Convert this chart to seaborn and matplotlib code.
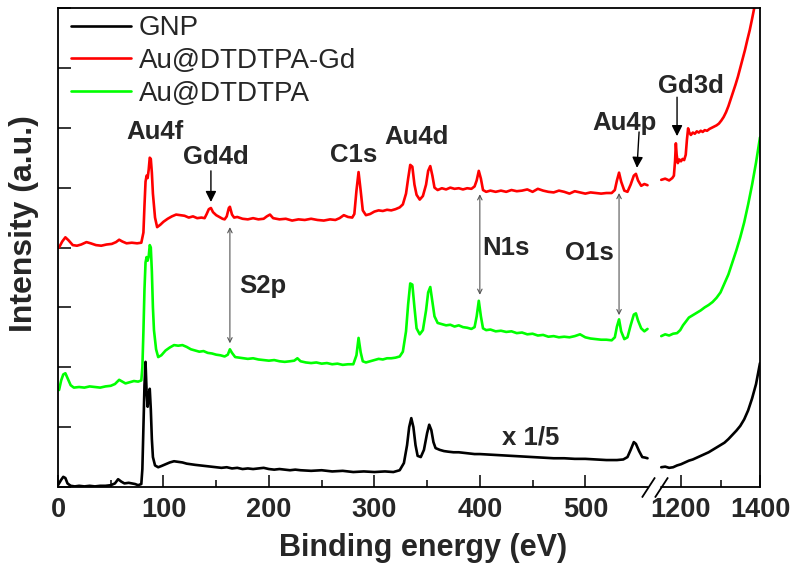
import numpy as np
import seaborn as sns
import matplotlib.pyplot as plt
from matplotlib.path import Path

# XPS survey spectra (intensity in arbitrary, offset units)
# left part 0-560 eV, right part 1150-1400 eV (broken axis)
red_left_ev = [1, 4, 7, 10, 14, 18, 22, 27, 31, 36, 41, 46, 51, 55, 58, 61, 65, 70, 75, 79,
               81, 82, 83, 84, 85, 86, 87, 88, 89, 90, 92, 94, 97, 100, 104, 108, 112, 116, 120,
               124, 128, 132, 136, 139, 141, 143, 145, 147, 150, 153, 156, 158, 160, 162, 163,
               165, 167, 170, 175, 180, 185, 190, 195, 198, 201, 204, 210, 216, 222, 228, 234,
               240, 246, 252, 258, 263, 267, 271, 275, 279, 281, 283, 285, 287, 289, 292, 296,
               300, 304, 308, 312, 316, 320, 324, 327, 330, 332, 334, 336, 338, 340, 343, 346,
               349, 351, 353, 355, 357, 360, 364, 368, 372, 376, 380, 384, 388, 392, 395, 397,
               399, 401, 403, 406, 410, 415, 420, 425, 430, 435, 440, 445, 450, 455, 460, 465,
               470, 475, 480, 485, 490, 495, 500, 505, 510, 515, 520, 525, 528, 530, 532, 534,
               537, 540, 543, 546, 548, 550, 553, 556, 559]
red_left_int = [4.00, 4.10, 4.17, 4.12, 4.04, 4.03, 4.05, 4.09, 4.07, 4.04, 4.03, 4.05, 4.06,
                4.09, 4.13, 4.10, 4.07, 4.08, 4.07, 4.08, 4.25, 4.70, 5.10, 5.20, 5.16, 5.30,
                5.50, 5.48, 5.25, 4.90, 4.50, 4.34, 4.38, 4.43, 4.48, 4.52, 4.55, 4.54, 4.53,
                4.50, 4.52, 4.49, 4.50, 4.49, 4.56, 4.64, 4.66, 4.59, 4.54, 4.51, 4.48, 4.47,
                4.52, 4.66, 4.68, 4.55, 4.50, 4.51, 4.48, 4.47, 4.49, 4.47, 4.48, 4.52, 4.55,
                4.49, 4.47, 4.48, 4.45, 4.47, 4.46, 4.48, 4.46, 4.45, 4.47, 4.46, 4.49, 4.54,
                4.51, 4.50, 4.56, 4.95, 5.26, 4.95, 4.62, 4.54, 4.56, 4.60, 4.62, 4.61, 4.63,
                4.62, 4.64, 4.67, 4.72, 4.90, 5.15, 5.38, 5.35, 5.05, 4.88, 4.80, 4.86, 5.05,
                5.28, 5.36, 5.20, 5.00, 4.96, 4.99, 4.97, 5.00, 4.98, 4.99, 4.97, 4.99, 4.98,
                5.02, 5.12, 5.28, 5.15, 4.96, 4.93, 4.95, 4.93, 4.95, 4.93, 4.96, 4.94, 4.95,
                4.97, 4.93, 4.98, 4.95, 4.93, 4.92, 4.95, 4.93, 4.90, 4.94, 4.92, 4.90, 4.92,
                4.91, 4.90, 4.91, 4.91, 4.96, 5.12, 5.25, 5.10, 4.95, 4.93, 5.05, 5.20, 5.23,
                5.12, 5.03, 5.06, 5.04]
red_right_ev = [1150, 1160, 1170, 1178, 1182, 1185, 1187, 1189, 1192, 1196, 1200, 1204, 1208,
                1212, 1215, 1218, 1221, 1225, 1230, 1235, 1240, 1245, 1250, 1255, 1260, 1266,
                1272, 1278, 1284, 1290, 1296, 1302, 1308, 1314, 1320, 1326, 1332, 1338, 1344,
                1350, 1356, 1362, 1368, 1374, 1380, 1386, 1392, 1400]
red_right_int = [5.13, 5.15, 5.12, 5.16, 5.20, 5.45, 5.74, 5.55, 5.41, 5.47, 5.44, 5.48, 5.46,
                 5.55, 5.80, 5.99, 5.92, 5.88, 5.92, 5.90, 5.94, 5.92, 5.95, 5.93, 5.96, 5.95,
                 5.98, 6.00, 6.02, 6.04, 6.07, 6.12, 6.18, 6.26, 6.36, 6.48, 6.60, 6.72, 6.85,
                 7.00, 7.15, 7.30, 7.47, 7.63, 7.82, 8.02, 8.25, 8.50]

green_left_ev = [1, 3, 5, 7, 9, 12, 15, 20, 25, 30, 35, 40, 45, 50, 54, 58, 61, 64, 68, 72, 76,
                 79, 80, 81, 82, 83, 84, 85, 86, 87, 88, 89, 90, 91, 93, 95, 98, 102, 106, 110,
                 114, 118, 122, 126, 130, 134, 138, 142, 146, 150, 154, 158, 161, 163, 165, 168,
                 172, 176, 180, 185, 190, 195, 200, 205, 210, 215, 220, 224, 227, 230, 235, 240,
                 245, 250, 255, 260, 265, 270, 275, 280, 283, 285, 287, 289, 292, 296, 300, 304,
                 308, 312, 316, 320, 324, 327, 330, 332, 334, 336, 338, 340, 343, 346, 349, 351,
                 353, 355, 357, 360, 364, 368, 372, 376, 380, 384, 388, 392, 395, 397, 399, 401,
                 403, 406, 410, 415, 420, 425, 430, 435, 440, 445, 450, 455, 460, 465, 470, 475,
                 480, 485, 490, 495, 500, 505, 510, 515, 520, 525, 528, 530, 532, 534, 537, 540,
                 543, 546, 548, 550, 553, 556, 559]
green_left_int = [1.62, 1.78, 1.88, 1.90, 1.82, 1.70, 1.66, 1.67, 1.66, 1.68, 1.67, 1.66, 1.68,
                  1.69, 1.72, 1.79, 1.76, 1.73, 1.75, 1.77, 1.76, 1.78, 2.00, 2.60, 3.30, 3.75,
                  3.84, 3.78, 3.85, 4.04, 4.00, 3.60, 3.00, 2.62, 2.30, 2.17, 2.20, 2.28, 2.33,
                  2.37, 2.36, 2.37, 2.34, 2.30, 2.28, 2.26, 2.27, 2.24, 2.23, 2.21, 2.20, 2.18,
                  2.21, 2.30, 2.24, 2.17, 2.16, 2.15, 2.14, 2.15, 2.13, 2.12, 2.11, 2.12, 2.10,
                  2.09, 2.10, 2.11, 2.15, 2.10, 2.08, 2.07, 2.08, 2.06, 2.07, 2.05, 2.06, 2.04,
                  2.05, 2.05, 2.20, 2.49, 2.25, 2.10, 2.08, 2.10, 2.12, 2.14, 2.13, 2.15, 2.15,
                  2.16, 2.18, 2.26, 2.60, 3.05, 3.40, 3.38, 3.00, 2.65, 2.55, 2.62, 2.95, 3.25,
                  3.34, 3.10, 2.85, 2.74, 2.72, 2.70, 2.71, 2.68, 2.70, 2.67, 2.66, 2.64, 2.67,
                  2.85, 3.11, 2.85, 2.65, 2.62, 2.63, 2.60, 2.61, 2.59, 2.60, 2.57, 2.58, 2.55,
                  2.56, 2.53, 2.54, 2.51, 2.52, 2.50, 2.51, 2.50, 2.52, 2.55, 2.50, 2.48, 2.47,
                  2.46, 2.46, 2.45, 2.50, 2.68, 2.80, 2.60, 2.47, 2.50, 2.70, 2.88, 2.90, 2.78,
                  2.65, 2.60, 2.64]
green_right_ev = [1150, 1160, 1170, 1180, 1190, 1198, 1205, 1212, 1220, 1230, 1240, 1250, 1260,
                  1270, 1280, 1290, 1300, 1310, 1320, 1330, 1340, 1350, 1360, 1370, 1380, 1390,
                  1400]
green_right_int = [2.52, 2.55, 2.53, 2.56, 2.57, 2.62, 2.70, 2.76, 2.83, 2.87, 2.91, 2.95, 3.00,
                   3.04, 3.09, 3.16, 3.25, 3.40, 3.55, 3.75, 3.95, 4.17, 4.42, 4.72, 5.05, 5.42,
                   5.84]

gnp_left_ev = [0, 3, 5, 7, 9, 12, 16, 20, 25, 30, 35, 40, 45, 50, 54, 57, 60, 63, 67, 70, 73, 76,
               79, 80, 81, 82, 83, 84, 85, 86, 87, 88, 89, 90, 92, 95, 98, 102, 106, 110, 114,
               118, 122, 126, 130, 135, 140, 145, 150, 155, 160, 165, 170, 175, 180, 185, 190,
               195, 200, 205, 210, 215, 220, 225, 230, 240, 250, 260, 270, 280, 290, 300, 310,
               318, 324, 328, 331, 333, 335, 337, 339, 341, 344, 347, 350, 352, 354, 356, 358,
               362, 366, 370, 375, 380, 385, 390, 395, 400, 410, 420, 430, 440, 450, 460, 470,
               480, 490, 500, 510, 520, 530, 536, 540, 543, 546, 548, 551, 554, 557, 559]
gnp_left_int = [0.03, 0.12, 0.17, 0.15, 0.06, 0.02, 0.01, 0.02, 0.01, 0.02, 0.01, 0.02, 0.02,
                0.03, 0.06, 0.13, 0.09, 0.06, 0.07, 0.06, 0.05, 0.03, 0.05, 0.30, 1.00, 1.70,
                2.09, 1.60, 1.34, 1.55, 1.64, 1.30, 0.80, 0.50, 0.36, 0.33, 0.35, 0.38, 0.41,
                0.43, 0.42, 0.41, 0.39, 0.38, 0.37, 0.36, 0.35, 0.34, 0.33, 0.32, 0.33, 0.31,
                0.32, 0.30, 0.31, 0.30, 0.31, 0.32, 0.30, 0.29, 0.30, 0.29, 0.28, 0.29, 0.28,
                0.27, 0.28, 0.26, 0.27, 0.25, 0.26, 0.25, 0.26, 0.25, 0.28, 0.40, 0.70, 1.00,
                1.15, 1.00, 0.70, 0.52, 0.50, 0.62, 0.90, 1.04, 0.95, 0.75, 0.65, 0.62, 0.60,
                0.59, 0.58, 0.58, 0.57, 0.56, 0.55, 0.55, 0.54, 0.53, 0.52, 0.51, 0.50, 0.49,
                0.48, 0.48, 0.47, 0.47, 0.46, 0.45, 0.45, 0.46, 0.50, 0.62, 0.75, 0.72, 0.60,
                0.50, 0.49, 0.48]
gnp_right_ev = [1150, 1160, 1170, 1180, 1190, 1200, 1210, 1220, 1230, 1240, 1250, 1260, 1270,
                1280, 1290, 1300, 1310, 1320, 1330, 1340, 1350, 1360, 1370, 1380, 1390, 1400]
gnp_right_int = [0.33, 0.34, 0.32, 0.33, 0.36, 0.38, 0.41, 0.44, 0.46, 0.49, 0.52, 0.55, 0.58,
                 0.62, 0.66, 0.70, 0.74, 0.80, 0.87, 0.94, 1.02, 1.13, 1.28, 1.48, 1.72, 2.07]

# peak labels: (text, x, y)
peak_labels = [("Au4f", 92, 5.93), ("Gd4d", 150, 5.51), ("C1s", 280, 5.54),
               ("Au4d", 340, 5.84), ("Au4p", 537, 6.08), ("Gd3d", 1224, 6.69),
               ("S2p", 194, 3.36), ("N1s", 425, 3.99), ("O1s", 504, 3.90),
               ("x 1/5", 448, 0.83)]
# black arrows: (x_from, y_from, x_to, y_to)
black_arrows = [(145, 5.28, 145, 4.76), (551, 5.93, 549, 5.33), (1190, 6.51, 1190, 5.86)]
# grey double arrows linking the two spectra: (x, y_top, y_bottom)
link_arrows = [(163, 4.34, 2.40), (400, 4.89, 3.21), (532, 4.91, 2.87)]


# broken axis done as a piecewise linear x scale
def fwd(x):
    x = np.asarray(x, dtype=float)
    return np.where(x <= 560, x * 1.0546,
                    np.where(x >= 1150, 603.25 + (x - 1150) * 0.395,
                             590.6 + (x - 560) * 12.65 / 590))


def inv(p):
    p = np.asarray(p, dtype=float)
    return np.where(p <= 590.6, p / 1.0546,
                    np.where(p >= 603.25, 1150 + (p - 603.25) / 0.395,
                             560 + (p - 590.6) * 590 / 12.65))


sns.set_style("ticks")
plt.rcParams['font.family'] = ['Liberation Sans', 'DejaVu Sans']

fig, ax = plt.subplots(figsize=(8, 5.72), dpi=100)
fig.subplots_adjust(left=0.0725, right=0.95, bottom=0.1486, top=0.986)
ax.set_xscale('function', functions=(fwd, inv))

lw = 1.9
sns.lineplot(x=gnp_left_ev, y=gnp_left_int, color='black', lw=lw, label='GNP',
             sort=False, estimator=None, ax=ax, zorder=4)
sns.lineplot(x=red_left_ev, y=red_left_int, color='#ff0000', lw=lw, label='Au@DTDTPA-Gd',
             sort=False, estimator=None, ax=ax)
sns.lineplot(x=green_left_ev, y=green_left_int, color='#00ff00', lw=lw, label='Au@DTDTPA',
             sort=False, estimator=None, ax=ax)
sns.lineplot(x=gnp_right_ev, y=gnp_right_int, color='black', lw=lw,
             sort=False, estimator=None, ax=ax, zorder=4)
sns.lineplot(x=red_right_ev, y=red_right_int, color='#ff0000', lw=lw,
             sort=False, estimator=None, ax=ax)
sns.lineplot(x=green_right_ev, y=green_right_int, color='#00ff00', lw=lw,
             sort=False, estimator=None, ax=ax)

ax.set_xlim(0, 1400)
ax.set_ylim(0, 8)
ax.set_xticks([0, 100, 200, 300, 400, 500, 1200, 1400])
ax.set_xticklabels(['0', '100', '200', '300', '400', '500', '1200', '1400'])
ax.set_xticks([50, 150, 250, 350, 450, 1300], minor=True)
ax.set_yticks(range(0, 9))
ax.set_yticklabels([])
ax.tick_params(axis='both', which='major', direction='in', length=9, width=1.3,
               labelsize=19.5, pad=7)
ax.tick_params(axis='x', which='minor', direction='in', length=5, width=1.3)
for lab in ax.get_xticklabels():
    lab.set_fontweight('bold')
ax.tick_params(axis='y', left=True, right=False)

for s in ['top', 'left', 'right']:
    ax.spines[s].set_linewidth(1.3)
    ax.spines[s].set_color('black')
ax.spines['bottom'].set_visible(False)
xt = ax.get_xaxis_transform()
ax.plot([0, 559], [0, 0], color='black', lw=1.3, transform=xt, clip_on=False)
ax.plot([1150, 1400], [0, 0], color='black', lw=1.3, transform=xt, clip_on=False)
slash = Path([(-0.65, -1), (0.65, 1)], [Path.MOVETO, Path.LINETO])
ax.plot([559, 1150], [0, 0], ls='none', marker=slash, markersize=14.5,
        markeredgewidth=1.3, color='black', transform=xt, clip_on=False)

ax.set_xlabel('Binding energy (eV)', fontsize=22, fontweight='bold')
ax.xaxis.set_label_coords(0.52, -0.095)
ax.set_ylabel('Intensity (a.u.)', fontsize=23, fontweight='bold')
ax.yaxis.set_label_coords(-0.027, 0.55)

for txt, x, y in peak_labels:
    ax.text(x, y, txt, fontsize=18.5, fontweight='bold', ha='center', va='center')
for x0, y0, x1, y1 in black_arrows:
    ax.annotate('', xy=(x1, y1), xytext=(x0, y0),
                arrowprops=dict(arrowstyle='-|>', color='black', lw=1.0, mutation_scale=16,
                                shrinkA=0, shrinkB=0))
for x, y0, y1 in link_arrows:
    ax.annotate('', xy=(x, y1), xytext=(x, y0),
                arrowprops=dict(arrowstyle='<->', color='#555555', lw=0.8, mutation_scale=8,
                                shrinkA=0, shrinkB=0))

ax.legend(loc='upper left', bbox_to_anchor=(0.01, 0.996), frameon=False, fontsize=20,
          handlelength=2.16, handletextpad=0.29, labelspacing=0.24, borderaxespad=0,
          borderpad=0.2)

fig.savefig('out.png', dpi=100)
